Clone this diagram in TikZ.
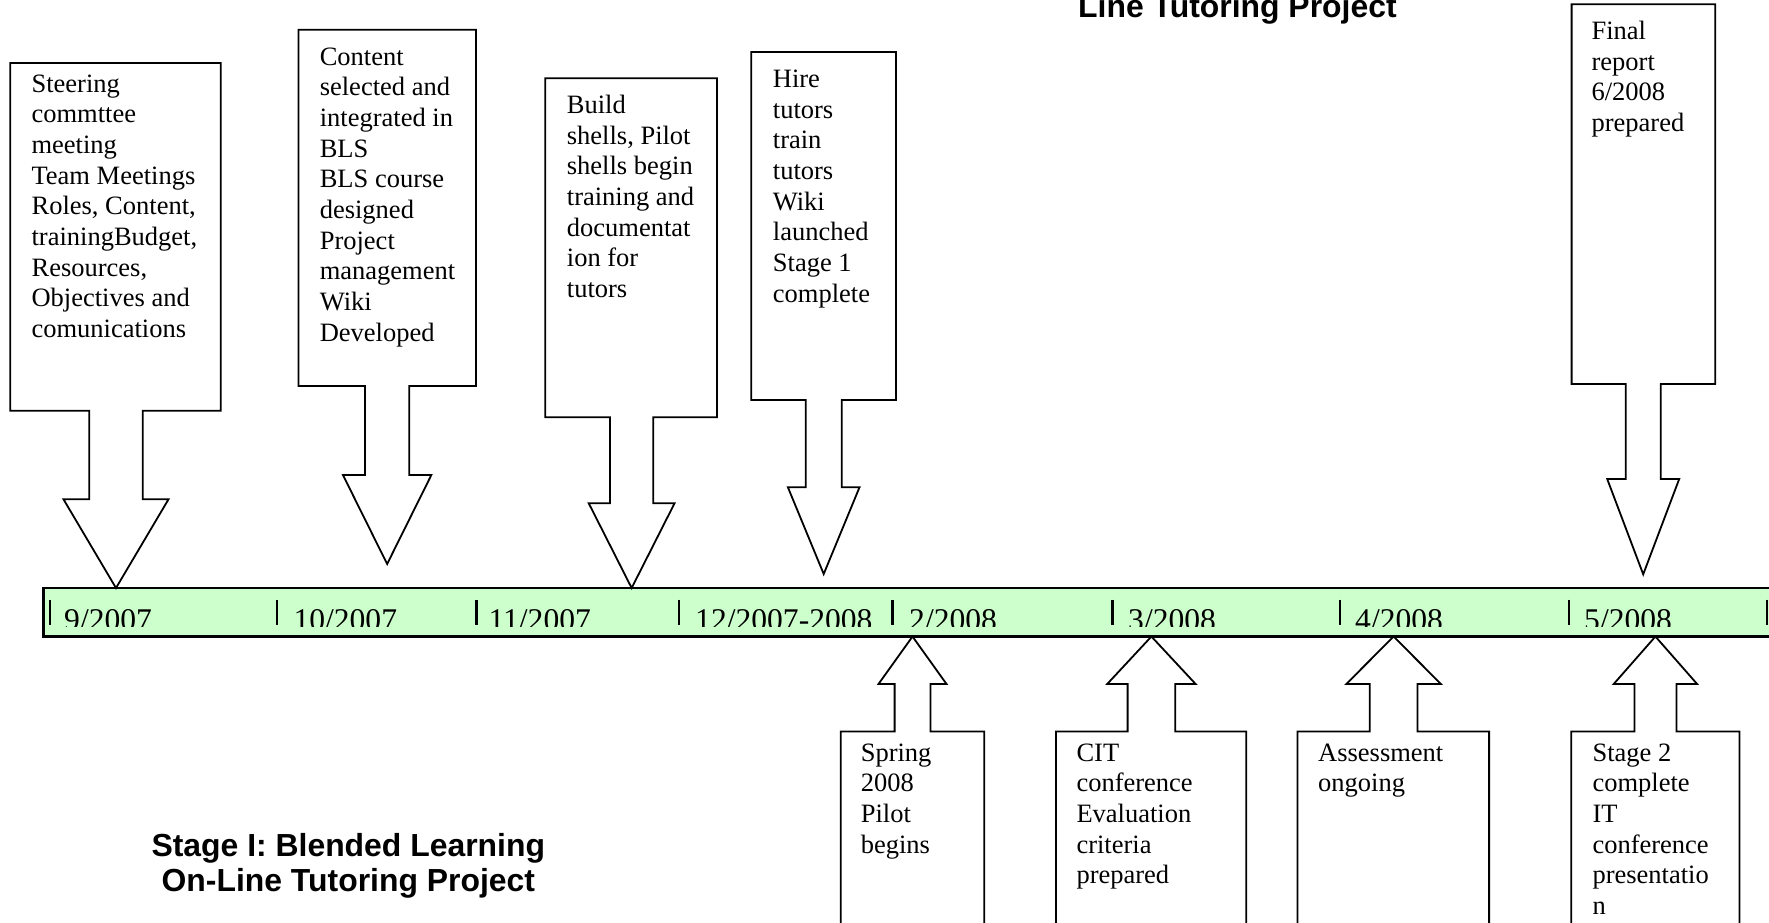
\documentclass[tikz,border=0pt]{standalone}
\usepackage{graphicx}
\usepackage{fontspec}
\setmainfont{Liberation Serif}
\newfontfamily\titlefont{Liberation Sans}
\definecolor{barfill}{HTML}{CCFFCC}
\newcommand\tb[1]{\begin{tabular}[t]{@{}l@{}}#1\end{tabular}}
\newcommand\tc[1]{\begin{tabular}[t]{@{}c@{}}#1\end{tabular}}
\tikzset{
  callout/.style={draw=black, line width=1.8pt, fill=white, line join=miter},
  boxtext/.style={anchor=base west, inner sep=0pt, font=\fontsize{26.5}{30.7}\selectfont},
  datetext/.style={anchor=base west, inner sep=0pt, font=\fontsize{31.6}{36}\selectfont},
  tickline/.style={line width=2.2pt},
  titletext/.style={inner sep=0pt, font=\titlefont\bfseries\fontsize{31.9}{35.6}\selectfont},
}
% down callout: L R T B sl sr wingy halfwing tipy
\newcommand\downcall[9]{\draw[callout] (#1,#3) -- (#2,#3) -- (#2,#4) -- (#6,#4) -- (#6,#7) -- ({(#5+#6)/2+#8},#7) -- ({(#5+#6)/2},#9) -- ({(#5+#6)/2-#8},#7) -- (#5,#7) -- (#5,#4) -- (#1,#4) -- cycle;}
% up callout: L R T sl sr wingy halfwing tipy
\newcommand\upcall[8]{\draw[callout] (#1,940) -- (#1,#3) -- (#4,#3) -- (#4,#6) -- ({(#4+#5)/2-#7},#6) -- ({(#4+#5)/2},#8) -- ({(#4+#5)/2+#7},#6) -- (#5,#6) -- (#5,#3) -- (#2,#3) -- (#2,940);}
\begin{document}
\begin{tikzpicture}[x=1pt,y=-1pt]
\useasboundingbox (0,0) rectangle (1769,922);

% timeline bar
\draw[fill=barfill, line width=2.5pt] (43.5,588) rectangle (1800,636.5);
\begin{scope}
  \clip (43.5,588) rectangle (1769,626);
  \node[datetext] (d1) at (64,630) {9/2007};
  \node[datetext] (d2) at (293.3,630) {10/2007};
  \node[datetext] (d3) at (488.3,630) {11/2007};
  \node[datetext] (d4) at (695,630) {12/2007-2008};
  \node[datetext] (d5) at (909,630) {2/2008};
  \node[datetext] (d6) at (1128,630) {3/2008};
  \node[datetext] (d7) at (1355,630) {4/2008};
  \node[datetext] (d8) at (1584,630) {5/2008};
\end{scope}
\foreach \tx in {50,277,476.5,679.3,892.5,1112.4,1340.3,1568.8,1767}
  \draw[tickline] (\tx,599.5) -- (\tx,625);

% top callouts
\downcall{10.3}{220.8}{63}{410.7}{89.3}{142.7}{499.3}{52.5}{588}
\downcall{298.5}{476}{29.7}{386}{365}{409.3}{475}{44.2}{564}
\downcall{545.3}{717}{78.3}{417.3}{610}{653.3}{503.3}{42.9}{588}
\downcall{751.3}{896}{52}{400}{805.7}{841.7}{487.3}{35.8}{574}
\downcall{1571.6}{1715.2}{4.3}{384}{1625.7}{1660.7}{479}{36}{574.3}

\node[boxtext] (t1) at (31.4,92) {\tb{Steering\\commttee\\meeting\\Team Meetings\\Roles, Content,\\trainingBudget,\\Resources,\\Objectives and\\comunications}};
\node[boxtext] (t2) at (319.6,65) {\tb{Content\\selected and\\integrated in\\BLS\\BLS course\\designed\\Project\\management\\Wiki\\Developed}};
\node[boxtext] (t3) at (566.7,113.3) {\tb{Build\\shells, Pilot\\shells begin\\training and\\documentat\\ion for\\tutors}};
\node[boxtext] (t4) at (772.7,87.3) {\tb{Hire\\tutors\\train\\tutors\\Wiki\\launched\\Stage 1\\complete}};
\node[boxtext] (t5) at (1591.4,39.3) {\tb{Final\\report\\6/2008\\prepared}};

% bottom callouts
\upcall{840.8}{984.2}{731.5}{894.6}{930.4}{684}{34}{636.5}
\upcall{1055.9}{1246.2}{731.5}{1127.6}{1175.2}{684}{44.2}{636.5}
\upcall{1297.5}{1489.1}{731.5}{1369.8}{1417.4}{684}{47.3}{636.5}
\upcall{1571.3}{1739.4}{731.5}{1634.4}{1676.4}{684}{41.7}{636.5}

\node[boxtext] (b1) at (860.6,761) {\tb{Spring\\2008\\Pilot\\begins}};
\node[boxtext] (b2) at (1076.3,761) {\tb{CIT\\conference\\Evaluation\\criteria\\prepared}};
\node[boxtext] (b3) at (1318,761) {\tb{Assessment\\ongoing}};
\node[boxtext] (b4) at (1592.3,761) {\tb{Stage 2\\complete\\IT\\conference\\presentatio\\n}};

% titles
\node[titletext, anchor=base west] (toptitle) at (1078,17) {Line Tutoring Project};
\node[titletext, anchor=base] (title) at (348.3,856) {\tc{Stage I: Blended Learning\\On-Line Tutoring Project}};
\end{tikzpicture}
\end{document}
